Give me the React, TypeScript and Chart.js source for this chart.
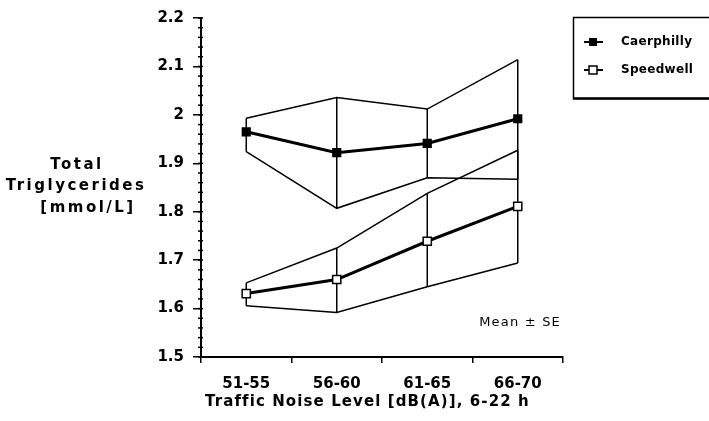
import { useEffect, useRef } from "react";
import { Chart, registerables } from "chart.js";

Chart.register(...registerables);

const categories = ["51-55", "56-60", "61-65", "66-70"];
const caerphillyMean = [1.965, 1.922, 1.941, 1.992];
const caerphillyUpper = [1.993, 2.036, 2.012, 2.114];
const caerphillyLower = [1.924, 1.807, 1.87, 1.867];
const speedwellMean = [1.631, 1.66, 1.739, 1.811];
const speedwellUpper = [1.653, 1.725, 1.838, 1.927];
const speedwellLower = [1.606, 1.592, 1.645, 1.694];
const yTickValues = [1.5, 1.6, 1.7, 1.8, 1.9, 2.0, 2.1, 2.2];
const yTitleLines = ["Total", "Triglycerides", "[mmol/L]"];
const xTitle = "Traffic Noise Level [dB(A)], 6-22 h";
const seriesNames = ["Caerphilly", "Speedwell"];
const noteText = "Mean \u00b1 SE";

const FONT = "'DejaVu Sans', sans-serif";

const decorPlugin = {
  id: "decor",
  beforeDatasetsDraw(chart: any) {
    const { ctx, scales } = chart;
    const x = scales.x;
    const y = scales.y;
    ctx.save();
    ctx.strokeStyle = "#000";
    ctx.lineWidth = 1.5;
    const pairs = [
      [caerphillyLower, caerphillyUpper],
      [speedwellLower, speedwellUpper],
    ];
    pairs.forEach(([lo, hi]) => {
      categories.forEach((_c, i) => {
        const px = x.getPixelForValue(i);
        ctx.beginPath();
        ctx.moveTo(px, y.getPixelForValue(lo[i]));
        ctx.lineTo(px, y.getPixelForValue(hi[i]));
        ctx.stroke();
      });
    });
    ctx.restore();
  },
  afterDraw(chart: any) {
    const { ctx, scales, chartArea } = chart;
    const y = scales.y;
    ctx.save();
    // minor ticks on the y axis
    ctx.strokeStyle = "#000";
    ctx.lineWidth = 1.5;
    const minV = yTickValues[0];
    const maxV = yTickValues[yTickValues.length - 1];
    const steps = Math.round((maxV - minV) / 0.02);
    for (let k = 0; k <= steps; k++) {
      const py = y.getPixelForValue(minV + k * 0.02);
      ctx.beginPath();
      ctx.moveTo(chartArea.left - 3, py);
      ctx.lineTo(chartArea.left + 2, py);
      ctx.stroke();
    }

    // y axis title (horizontal, three lines)
    ctx.fillStyle = "#000";
    ctx.font = `bold 15px ${FONT}`;
    ctx.textBaseline = "middle";
    ctx.textAlign = "center";
    (ctx as any).letterSpacing = "2.5px";
    const titleX = [77, 76, 88];
    yTitleLines.forEach((line, i) => {
      ctx.fillText(line, titleX[i], 165 + i * 21.5);
    });

    // x axis title
    (ctx as any).letterSpacing = "1.1px";
    ctx.textAlign = "left";
    ctx.fillText(xTitle, chartArea.left + 4, 402);

    // note
    ctx.font = `13px ${FONT}`;
    (ctx as any).letterSpacing = "1.2px";
    ctx.textAlign = "right";
    ctx.fillText(noteText, chartArea.right - 2, chartArea.bottom - 34);

    // legend box
    (ctx as any).letterSpacing = "0.3px";
    ctx.lineWidth = 1.5;
    ctx.strokeRect(573.5, 17.5, 160, 81);
    ctx.lineWidth = 2.5;
    ctx.beginPath();
    ctx.moveTo(573, 98.5);
    ctx.lineTo(709, 98.5);
    ctx.stroke();
    ctx.font = `bold 12px ${FONT}`;
    ctx.textAlign = "left";
    const rows = [42, 70];
    seriesNames.forEach((name, i) => {
      const ly = rows[i];
      ctx.lineWidth = 2;
      ctx.beginPath();
      ctx.moveTo(584, ly);
      ctx.lineTo(603, ly);
      ctx.stroke();
      if (i === 0) {
        ctx.fillRect(589, ly - 4, 8, 8);
      } else {
        ctx.fillStyle = "#fff";
        ctx.fillRect(589, ly - 4, 8, 8);
        ctx.fillStyle = "#000";
        ctx.lineWidth = 1.5;
        ctx.strokeRect(589, ly - 4, 8, 8);
      }
      ctx.fillText(name, 621, ly);
    });
    ctx.restore();
  },
};

export default function App() {
  const ref = useRef<HTMLCanvasElement | null>(null);
  useEffect(() => {
    document.body.style.margin = "0";
    const canvas = ref.current;
    if (!canvas) return;
    const chart = new Chart(canvas, {
      type: "line",
      data: {
        labels: categories,
        datasets: [
          {
            label: seriesNames[0],
            data: caerphillyMean,
            borderColor: "#000",
            backgroundColor: "#000",
            borderWidth: 3,
            pointStyle: "rect",
            pointRadius: 6.5,
            pointBorderWidth: 0,
            tension: 0,
          },
          {
            label: seriesNames[1],
            data: speedwellMean,
            borderColor: "#000",
            backgroundColor: "#fff",
            borderWidth: 3,
            pointStyle: "rect",
            pointRadius: 5.8,
            pointBorderWidth: 1.5,
            pointBorderColor: "#000",
            pointBackgroundColor: "#fff",
            tension: 0,
          },
          { label: "cu", data: caerphillyUpper, borderColor: "#000", borderWidth: 1.5, pointRadius: 0, tension: 0 },
          { label: "cl", data: caerphillyLower, borderColor: "#000", borderWidth: 1.5, pointRadius: 0, tension: 0 },
          { label: "su", data: speedwellUpper, borderColor: "#000", borderWidth: 1.5, pointRadius: 0, tension: 0 },
          { label: "sl", data: speedwellLower, borderColor: "#000", borderWidth: 1.5, pointRadius: 0, tension: 0 },
        ],
      },
      options: {
        animation: false,
        responsive: false,
        devicePixelRatio: 1,
        layout: { padding: { left: 0, right: 146, top: 15, bottom: 0 } },
        plugins: {
          legend: { display: false },
          tooltip: { enabled: false },
        },
        scales: {
          x: {
            type: "category",
            offset: true,
            afterFit: (s: any) => {
              s.height = 64;
            },
            grid: {
              offset: true,
              drawOnChartArea: false,
              tickLength: 6,
              color: "#000",
              lineWidth: 1.5,
            },
            border: { color: "#000", width: 2 },
            ticks: {
              color: "#000",
              font: { family: FONT, size: 15, weight: "bold" },
              padding: 12,
              maxRotation: 0,
            },
            title: { display: false },
          },
          y: {
            min: yTickValues[0],
            max: yTickValues[yTickValues.length - 1],
            afterFit: (s: any) => {
              s.width = 201;
            },
            afterBuildTicks: (s: any) => {
              s.ticks = yTickValues.map((v) => ({ value: v }));
            },
            grid: {
              drawOnChartArea: false,
              tickLength: 8,
              color: "#000",
              lineWidth: 1.5,
            },
            border: { color: "#000", width: 2 },
            ticks: {
              color: "#000",
              font: { family: FONT, size: 15, weight: "bold" },
              padding: 9,
              callback: (v: any) => String(Math.round(Number(v) * 10) / 10),
            },
          },
        },
      },
      plugins: [decorPlugin],
    } as any);
    return () => chart.destroy();
  }, []);
  return (
    <div style={{ width: 709, height: 421, background: "#fff" }}>
      <canvas ref={ref} width={709} height={421} style={{ display: "block" }} />
    </div>
  );
}
